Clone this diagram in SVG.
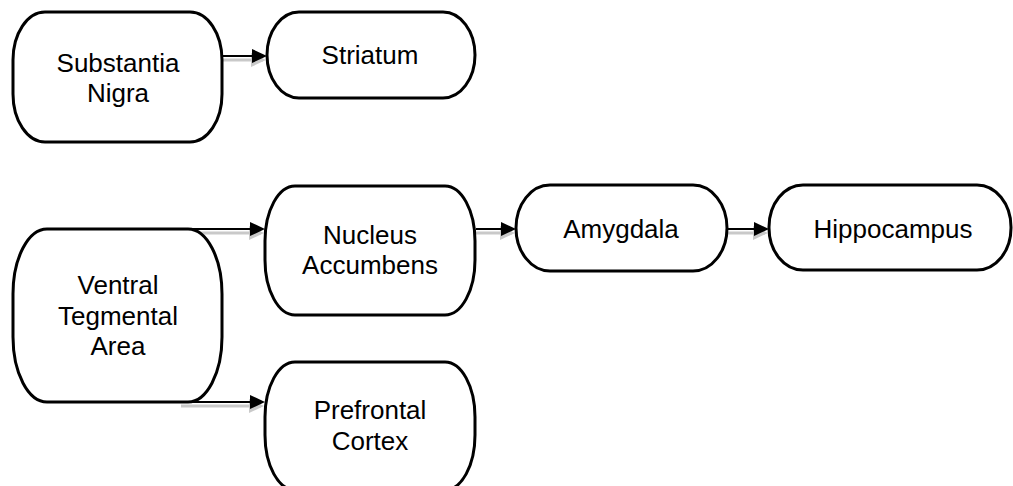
<svg xmlns="http://www.w3.org/2000/svg" width="1013" height="486" viewBox="0 0 1013 486">
<defs>
<marker id="ah" markerUnits="userSpaceOnUse" markerWidth="16" markerHeight="16" refX="12" refY="7" orient="auto" overflow="visible">
<path d="M0,0 L15,7 L0,14 z" fill="#000"/>
</marker>
<marker id="ahs" markerUnits="userSpaceOnUse" markerWidth="16" markerHeight="16" refX="12" refY="7" orient="auto" overflow="visible">
<path d="M0,0 L15,7 L0,14 z" fill="#c9c9c9"/>
</marker>
<style>
.box{fill:#fff;stroke:#000;stroke-width:3}
.lbl{font-family:"Liberation Sans",Arial,sans-serif;font-size:26px;fill:#000;text-anchor:middle}
.c{stroke:#000;stroke-width:2;fill:none;marker-end:url(#ah)}
.s{stroke:#c9c9c9;stroke-width:3;fill:none;marker-end:url(#ahs)}
</style>
</defs>
<rect width="1013" height="486" fill="#fff"/>
<g id="connectors">
<g transform="translate(-1,4)">
<line class="s" x1="222" y1="56" x2="264" y2="56"/>
<line class="s" x1="182" y1="229" x2="262" y2="229"/>
<line class="s" x1="182" y1="402" x2="262" y2="402"/>
<line class="s" x1="475" y1="229" x2="513" y2="229"/>
<line class="s" x1="727" y1="229" x2="766" y2="229"/>
</g>
<line class="c" x1="222" y1="56" x2="264" y2="56"/>
<line class="c" x1="186" y1="229" x2="262" y2="229"/>
<line class="c" x1="186" y1="402" x2="262" y2="402"/>
<line class="c" x1="476" y1="229" x2="513" y2="229"/>
<line class="c" x1="727" y1="229" x2="766" y2="229"/>
</g>
<g id="substantia-nigra">
<rect class="box" x="13" y="12" width="209" height="130" rx="32" ry="48"/>
<text class="lbl" x="118" y="72">Substantia</text>
<text class="lbl" x="118" y="102">Nigra</text>
</g>
<g id="striatum">
<rect class="box" x="267" y="12" width="208" height="86" rx="32" ry="43"/>
<text class="lbl" x="370" y="64">Striatum</text>
</g>
<g id="ventral-tegmental-area">
<rect class="box" x="13" y="229" width="209" height="173" rx="34" ry="65"/>
<text class="lbl" x="118" y="294">Ventral</text>
<text class="lbl" x="118" y="325">Tegmental</text>
<text class="lbl" x="118" y="355">Area</text>
</g>
<g id="nucleus-accumbens">
<rect class="box" x="265" y="186" width="210" height="129" rx="30" ry="55"/>
<text class="lbl" x="370" y="244">Nucleus</text>
<text class="lbl" x="370" y="274">Accumbens</text>
</g>
<g id="prefrontal-cortex">
<rect class="box" x="265" y="362" width="210" height="128" rx="30" ry="55"/>
<text class="lbl" x="370" y="419">Prefrontal</text>
<text class="lbl" x="370" y="450">Cortex</text>
</g>
<g id="amygdala">
<rect class="box" x="516" y="185" width="211" height="86" rx="34" ry="43"/>
<text class="lbl" x="621" y="238">Amygdala</text>
</g>
<g id="hippocampus">
<rect class="box" x="769" y="185" width="242" height="85" rx="34" ry="42"/>
<text class="lbl" x="893" y="238">Hippocampus</text>
</g>
</svg>
